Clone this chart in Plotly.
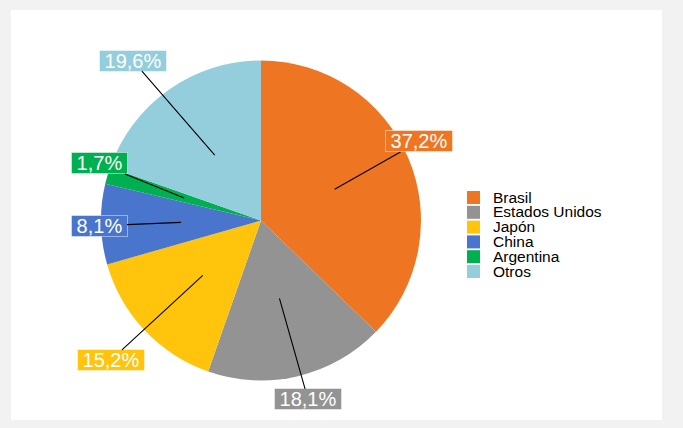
import math
import plotly.graph_objects as go

# ---- data ----
categories = ["Brasil", "Estados Unidos", "Japón", "China", "Argentina", "Otros"]
shares = [37.2, 18.1, 15.2, 8.1, 1.7, 19.6]
colors = ["#EE7623", "#939393", "#FFC40B", "#4A75CC", "#00AF50", "#94CDDB"]

# ---- layout settings ----
W, H = 683, 428
CX, CY, R = 261, 220.5, 160          # pie centre / radius in pixels (from top-left)
label_radius = [1.104, 1.156, 1.284, 1.013, 1.073, 1.281]   # label centre distance / R
label_turn = [-3.6, -1.4, 0.4, -0.5, 3.1, -3.4]            # degrees of label shift
FONT = "Liberation Sans, Arial, sans-serif"
CHAR_W = {",": 0.278, "%": 0.889}   # Arial advance widths (em), digits 0.556

fig = go.Figure(go.Pie(
    labels=categories, values=shares, sort=False, direction="clockwise",
    rotation=0, marker=dict(colors=colors, line=dict(width=0)),
    textinfo="none", hoverinfo="label+percent", showlegend=False,
    domain=dict(x=[(CX - R) / W, (CX + R) / W], y=[(H - CY - R) / H, (H - CY + R) / H]),
))

annotations = []
shapes = [dict(type="rect", xref="paper", yref="paper", x0=11 / W, x1=662 / W,
               y0=1 - 420 / H, y1=1 - 10 / H, fillcolor="white", line=dict(width=0),
               layer="below")]

total = sum(shares)
cum = 0.0
for i, (cat, v, col) in enumerate(zip(categories, shares, colors)):
    mid = (cum + v / 2) / total * 2 * math.pi
    cum += v
    tx = CX + 0.5 * R * math.sin(mid)
    ty = CY - 0.5 * R * math.cos(mid)
    la = mid + math.radians(label_turn[i])
    lx = CX + label_radius[i] * R * math.sin(la)
    ly = CY - label_radius[i] * R * math.cos(la)
    txt = f"{v:.1f}".replace(".", ",") + "%"
    tw = sum(CHAR_W.get(c, 0.556) for c in txt) * 20
    annotations.append(dict(
        x=tx / W, y=1 - ty / H, xref="paper", yref="paper",
        ax=lx - tx, ay=ly - ty, axref="pixel", ayref="pixel",
        text=txt, width=round(tw) + 9, height=20,
        showarrow=True, arrowhead=0, arrowwidth=1.1, arrowcolor="black",
        bgcolor=col, bordercolor="rgba(255,255,255,0.45)", borderwidth=1, borderpad=0,
        font=dict(family=FONT, size=20, color="white"),
    ))

# legend (manual, tight Excel-like spacing)
LX, LY, STEP, SQ = 467, 191, 14.8, 13
for i, (cat, col) in enumerate(zip(categories, colors)):
    y0 = LY + i * STEP
    shapes.append(dict(type="rect", xref="paper", yref="paper",
                       x0=LX / W, x1=(LX + SQ) / W, y0=1 - (y0 + SQ) / H, y1=1 - y0 / H,
                       fillcolor=col, line=dict(width=0)))
    annotations.append(dict(
        x=491 / W, y=1 - (y0 + SQ / 2 - 0.5) / H, xref="paper", yref="paper",
        xanchor="left", yanchor="middle", showarrow=False, text=cat,
        font=dict(family=FONT, size=15.5, color="black"),
    ))

fig.update_layout(
    width=W, height=H, margin=dict(l=0, r=0, t=0, b=0),
    paper_bgcolor="#F2F2F2", plot_bgcolor="#F2F2F2",
    shapes=shapes, annotations=annotations,
)

fig.write_html("out.html")
